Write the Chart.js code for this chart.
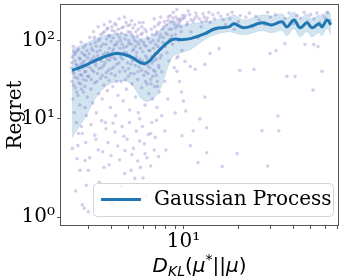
<!DOCTYPE html>
<html>
<head>
<meta charset="utf-8">
<script src="https://cdn.jsdelivr.net/npm/chart.js@4/dist/chart.umd.min.js"></script>
<style>
html, body { margin: 0; padding: 0; background: #fff; }
#wrap { width: 344px; height: 276px; }
</style>
</head>
<body>
<div id="wrap"><canvas id="regretChart"></canvas></div>
<script>
// GP 均值曲线与置信带
const meanX = [2.44, 2.88, 3.48, 4.31, 5.08, 6.14, 7.24, 8.65, 9.81, 10.9, 13.1, 14.9, 17.8, 18.9, 21.5, 27.0, 30.6, 34.7, 37.0, 40.5, 43.6, 47.7, 50.8, 55.5, 57.7, 61.4, 64.6];
const meanY = [41.7, 48.3, 59.2, 68.4, 62.7, 51.2, 72.6, 103, 103, 106, 123, 142, 150, 164, 146, 169, 159, 174, 150, 184, 146, 169, 146, 164, 150, 184, 159];
const bandUpper = [79.2, 91.6, 112, 123, 119, 106, 130, 174, 159, 164, 174, 184, 201, 213, 184, 213, 207, 220, 196, 233, 190, 220, 190, 213, 196, 240, 213];
const bandLower = [5.75, 10.5, 22.0, 30.3, 28.6, 16.9, 21.3, 60.9, 70.5, 76.9, 103, 119, 130, 126, 119, 134, 126, 134, 116, 142, 112, 130, 112, 126, 116, 142, 119];

// 散点 [D_KL, regret]
const scatterPoints = [
    [2.42,45],[2.44,30],[2.45,62],[2.47,18],[2.48,85],[2.5,38],[2.51,12],[2.53,55],[2.55,25],[2.56,70],
    [2.58,9],[2.6,48],[2.62,33],[2.63,20],[2.65,78],[2.67,42],[2.69,15],[2.7,58],[2.72,28],[2.74,95],
    [2.76,36],[2.78,6.5],[2.8,52],[2.82,22],[2.84,66],[2.86,40],[2.88,14],[2.9,88],[2.92,31],[2.94,47],
    [2.96,19],[2.98,60],[2.45,4.2],[2.6,3.1],[2.7,2.2],[2.55,1.6],[2.85,1.2],[2.75,8],[2.5,72],[2.93,11],
    [3.02,35],[3.05,110],[3.07,55],[3.1,24],[3.12,80],[3.15,42],[3.17,16],[3.2,130],[3.22,62],[3.25,29],
    [3.27,95],[3.3,48],[3.32,12],[3.35,72],[3.37,38],[3.4,150],[3.42,21],[3.45,58],[3.47,105],[3.5,33],
    [3.52,84],[3.55,45],[3.57,18],[3.6,125],[3.62,66],[3.65,27],[3.67,160],[3.7,52],[3.72,9],[3.75,90],
    [3.77,39],[3.8,140],[3.82,23],[3.85,70],[3.87,115],[3.9,31],[3.92,56],[3.95,175],[3.97,14],[4.0,98],
    [4.03,44],[4.06,135],[4.09,26],[4.12,78],[4.15,60],[4.18,165],[4.21,36],[4.24,11],[4.27,88],[4.3,50],
    [4.33,120],[4.36,20],[4.4,68],[4.43,190],[4.46,40],[3.3,5.5],[3.6,3.8],[3.9,2.6],[4.2,6.8],[3.45,1.8],
    [4.05,1.3],[3.75,7.5],[4.35,4.5],
    [4.5,100],[4.54,30],[4.58,145],[4.62,58],[4.66,17],[4.7,82],[4.74,200],[4.78,41],[4.82,118],[4.86,24],
    [4.9,66],[4.94,155],[4.98,35],[5.02,92],[5.06,13],[5.1,128],[5.14,50],[5.18,180],[5.22,28],[5.26,75],
    [5.3,110],[5.35,38],[5.4,160],[5.45,19],[5.5,62],[5.55,96],[5.6,32],[5.65,140],[5.7,46],[5.75,10],
    [5.8,80],[5.85,120],[5.9,25],[5.95,55],[6.0,170],[6.05,36],[6.1,88],[6.15,15],[6.2,64],[6.25,130],
    [6.3,28],[6.35,48],[6.4,105],[6.45,21],[4.6,8],[4.9,5.5],[5.2,3.5],[5.5,7],[5.8,2.4],[6.1,4.8],
    [6.4,6.3],[4.75,2.0],[5.35,1.4],[6.0,1.9],[5.65,12],[4.85,70],[5.45,85],[6.2,40],[5.0,44],[5.9,150],
    [6.55,75],[6.6,32],[6.65,140],[6.7,52],[6.75,18],[6.8,100],[6.85,42],[6.9,190],[6.95,26],[7.0,68],
    [7.05,120],[7.1,36],[7.15,14],[7.2,85],[7.25,160],[7.3,48],[7.35,22],[7.4,110],[7.45,60],[7.5,200],
    [7.6,40],[7.7,95],[7.8,150],[7.9,30],[8.0,125],[8.1,70],[8.2,180],[8.3,55],[8.4,105],[8.45,210],
    [6.7,9],[7.0,5.8],[7.3,3.3],[7.6,11],[7.9,7],[8.2,18],[6.6,2.5],[7.4,1.6],[8.0,4],[7.2,26],
    [3.1,8.5],[3.25,6.2],[3.55,9.5],[3.85,5],[4.1,8.8],[4.45,3],[4.7,6],[5.05,9],[5.3,4.2],[5.6,2.9],
    [5.95,8],[6.3,3.2],[6.6,6.5],[6.9,4],[7.1,9.6],[3.4,4],[3.65,2.4],[4.0,3.4],[4.55,1.7],[5.15,2.2],
    [5.75,5.2],[6.25,1.5],[2.65,6.5],[2.9,5],[3.05,3.2],[2.63,4.55],[2.88,2.94],[3.0,2.2],[2.92,1.73],
    [2.78,1.28],[3.0,1.12],[4.77,3.94],[6.15,3.6],[5.4,1.89],
    [8.6,140],[8.7,90],[8.8,175],[8.9,45],[9.0,120],[9.1,200],[9.2,60],[9.3,155],[9.4,100],[9.5,30],
    [9.6,180],[9.7,130],[9.8,75],[9.9,210],[9.75,22],[9.5,190],[10.2,210],[11,185],[11.8,205],[12.6,175],
    [13.5,195],[14.5,215],[8.8,230],[9.2,250],[10.6,240],
    [10.5,170],[11,130],[11.5,190],[12,110],[12.5,150],[13,200],[13.5,125],[14,170],[15,140],[16,205],
    [17,160],[18,190],[19,140],[20,175],[22,200],[24,150],[26,185],[28,160],[30,200],[33,170],
    [36,190],[40,165],[44,195],[48,175],[52,190],[56,170],[60,195],[64,180],
    [9.33,62.7],[9.2,40.5],[10.2,54.3],[10.9,46.8],[11.6,43],[13.1,49.7],[14.0,68.4],[15.7,79],[10,16.9],[10.3,12.6],
    [9.0,11.9],[13.1,19],[20.4,41.7],[29.9,68.4],[32.2,74.8],[36.1,91.6],[41,35],[46.5,89],[54.8,84],[51.5,23.3],
    [57.7,40.5],[33,10.9],[11.3,7.05],[12.3,10],[9.8,6.1],[27,7.05],[10.9,4.55],[13.4,3.7],[19.7,3.6],[16.3,2.47],
    [29,2.5],[12.0,2.77],[13.4,7.7],[33.4,7.05],[37,35],[52,89],[24.4,43],
    // 密集核心区
    [2.43,52],[2.46,40],[2.49,27],[2.52,66],[2.54,34],[2.57,50],[2.59,22],[2.61,75],[2.64,44],[2.66,29],
    [2.68,60],[2.71,37],[2.73,50],[2.75,24],[2.77,70],[2.79,45],[2.81,32],[2.83,82],[2.85,55],[2.87,26],
    [2.89,64],[2.91,40],[2.95,75],[2.97,35],[2.99,50],
    [3.03,68],[3.06,45],[3.09,90],[3.11,32],[3.14,58],[3.18,75],[3.21,40],[3.24,110],[3.28,52],[3.31,85],
    [3.34,30],[3.38,64],[3.41,100],[3.44,44],[3.48,75],[3.51,120],[3.54,55],[3.58,36],[3.61,90],[3.64,48],
    [3.68,130],[3.71,70],[3.74,34],[3.78,105],[3.81,58],[3.84,145],[3.88,42],[3.91,80],[3.94,115],[3.98,62],
    [4.01,38],[4.04,150],[4.08,72],[4.11,108],[4.14,46],[4.17,88],[4.2,130],[4.23,58],[4.26,160],[4.29,30],
    [4.32,95],[4.35,70],[4.38,140],[4.42,52],[4.45,110],[4.48,80],
    [4.52,62],[4.56,125],[4.6,90],[4.64,45],[4.68,150],[4.72,70],[4.76,105],[4.8,32],[4.84,170],[4.88,85],
    [4.92,52],[4.96,130],[5.0,100],[5.04,65],[5.08,160],[5.12,38],[5.16,90],[5.2,120],[5.24,55],[5.28,145],
    [5.33,78],[5.38,100],[5.43,48],[5.48,130],[5.53,70],[5.58,115],[5.63,40],[5.68,90],[5.73,170],[5.78,58],
    [5.83,100],[5.88,42],[5.93,125],[5.98,72],[6.03,95],[6.08,50],[6.13,140],[6.18,30],[6.23,85],[6.28,60],
    [6.33,110],[6.38,38],[6.43,75],[6.48,55],
    [6.53,45],[6.58,95],[6.63,28],[6.68,62],[6.73,120],[6.78,35],[6.83,80],[6.88,55],[6.93,150],[6.98,40],
    [7.03,90],[7.08,58],[7.13,130],[7.18,30],[7.23,70],[7.28,100],[7.33,45],[7.38,170],[7.43,80],[7.48,120],
    [7.55,65],[7.65,140],[7.75,110],[7.85,175],[7.95,85],[8.05,160],[8.15,120],[8.25,200],[8.35,140],[8.5,175],
    [8.6,115],[8.75,195],[8.95,160],[9.05,145],[9.25,185],[9.45,170],[9.65,150],[9.85,190],
    [10.1,195],[10.4,160],[10.8,215],[11.3,175],[11.7,225],[12.2,190],[12.8,220],[13.3,180],[13.8,230],[14.8,190],
    [15.5,225],[16.5,185],[17.5,215],[18.5,230],[20.5,210],[23,225],[25,205],[29,230],[32,215],[38,225],
    [42,210],[46,230],[50,215],[54,225],[58,210],[62,228]
];

// 刻度
const xTickValues = [3, 4, 5, 6, 7, 8, 9, 10, 20, 30, 40, 50, 60, 70];
const yTickValues = [1, 10, 100];
const yTickLabels = ['10⁰', '10¹', '10²'];

const lineColor = '#1f77b4';
const axisColor = '#555';
const serif = 'DejaVu Serif';

// symlog 变换 (linthresh = 2)
const LIN_THRESH = 2;
const LIN_SCALE = 1 / (1 - 1 / 10);
function symT(v) {
    return v <= LIN_THRESH ? v * LIN_SCALE : LIN_THRESH * (LIN_SCALE + Math.log10(v / LIN_THRESH));
}
function symInv(t) {
    return t <= LIN_THRESH * LIN_SCALE ? t / LIN_SCALE : LIN_THRESH * Math.pow(10, t / LIN_THRESH - LIN_SCALE);
}

class SymlogScale extends Chart.Scale {
    determineDataLimits() {
        this.min = this.options.min;
        this.max = this.options.max;
    }
    buildTicks() {
        return yTickValues.map(v => ({ value: v }));
    }
    getLabelForValue(v) {
        return String(v);
    }
    configure() {
        super.configure();
        this._t0 = symT(this.min);
        this._t1 = symT(this.max);
    }
    getPixelForValue(v) {
        return this.getPixelForDecimal((symT(v) - this._t0) / (this._t1 - this._t0));
    }
    getValueForPixel(p) {
        return symInv(this._t0 + this.getDecimalForPixel(p) * (this._t1 - this._t0));
    }
}
SymlogScale.id = 'symlog';
SymlogScale.defaults = {};
Chart.register(SymlogScale);

// 外框
const framePlugin = {
    id: 'frame',
    afterDatasetsDraw(chart) {
        const { ctx, chartArea: a } = chart;
        ctx.save();
        ctx.strokeStyle = axisColor;
        ctx.lineWidth = 1;
        ctx.strokeRect(a.left + 0.5, a.top + 0.5, a.right - a.left - 1, a.bottom - a.top - 1);
        ctx.restore();
    }
};

// 图例
const legendPlugin = {
    id: 'gpLegend',
    afterDraw(chart) {
        const ctx = chart.ctx;
        ctx.save();
        ctx.beginPath();
        ctx.roundRect(93.5, 183.5, 240, 33, 4);
        ctx.fillStyle = 'rgba(255,255,255,0.8)';
        ctx.fill();
        ctx.strokeStyle = '#d5d5d5';
        ctx.lineWidth = 1;
        ctx.stroke();
        ctx.beginPath();
        ctx.moveTo(101, 199.5);
        ctx.lineTo(141, 199.5);
        ctx.strokeStyle = lineColor;
        ctx.lineWidth = 3;
        ctx.stroke();
        ctx.fillStyle = '#000';
        ctx.font = '20px "' + serif + '"';
        ctx.textBaseline = 'middle';
        ctx.fillText('Gaussian Process', 154, 200);
        ctx.restore();
    }
};

// x 轴标题 D_KL(μ*||μ)
const xTitlePlugin = {
    id: 'xTitle',
    afterDraw(chart) {
        const ctx = chart.ctx;
        const a = chart.chartArea;
        const big = '20px "DejaVu Sans"';
        const bigIt = 'italic 20px "DejaVu Sans"';
        const smallIt = 'italic 14px "DejaVu Sans"';
        const small = '14px "DejaVu Sans"';
        const parts = [
            { t: 'D', f: bigIt, dy: 0 },
            { t: 'KL', f: smallIt, dy: 4 },
            { t: '(', f: big, dy: 0 },
            { t: 'μ', f: bigIt, dy: 0 },
            { t: '*', f: small, dy: -8 },
            { t: '||', f: big, dy: 0 },
            { t: 'μ', f: bigIt, dy: 0 },
            { t: ')', f: big, dy: 0 }
        ];
        ctx.save();
        let total = 0;
        parts.forEach(p => { ctx.font = p.f; p.w = ctx.measureText(p.t).width; total += p.w; });
        let x = (a.left + a.right) / 2 - total / 2;
        const base = 272;
        ctx.fillStyle = '#000';
        ctx.textBaseline = 'alphabetic';
        parts.forEach(p => {
            ctx.font = p.f;
            ctx.fillText(p.t, x, base + p.dy);
            x += p.w;
        });
        ctx.restore();
    }
};

function initRegretChart() {
    const ctx = document.getElementById('regretChart').getContext('2d');
    const toXY = (xs, ys) => xs.map((x, i) => ({ x: x, y: ys[i] }));

    new Chart(ctx, {
        data: {
            datasets: [
                {
                    type: 'line',
                    label: 'Gaussian Process',
                    data: toXY(meanX, meanY),
                    borderColor: lineColor,
                    borderWidth: 3,
                    pointRadius: 0,
                    tension: 0.4,
                    fill: false,
                    order: 0
                },
                {
                    type: 'line',
                    label: 'upper',
                    data: toXY(meanX, bandUpper),
                    borderColor: 'rgba(31,119,180,0.12)',
                    borderWidth: 1,
                    backgroundColor: 'rgba(31,119,180,0.2)',
                    pointRadius: 0,
                    tension: 0.4,
                    fill: '+1',
                    order: 1
                },
                {
                    type: 'line',
                    label: 'lower',
                    data: toXY(meanX, bandLower),
                    borderColor: 'rgba(31,119,180,0.12)',
                    borderWidth: 1,
                    pointRadius: 0,
                    tension: 0.4,
                    fill: false,
                    order: 1
                },
                {
                    type: 'scatter',
                    label: 'samples',
                    data: scatterPoints.map(p => ({ x: p[0], y: p[1] })),
                    backgroundColor: 'rgba(140,120,200,0.36)',
                    borderWidth: 0,
                    pointRadius: 1.8,
                    order: 2
                }
            ]
        },
        options: {
            responsive: true,
            maintainAspectRatio: false,
            animation: false,
            layout: { padding: { top: 2, right: 5, bottom: 0, left: 0 } },
            plugins: {
                legend: { display: false },
                tooltip: { enabled: false }
            },
            scales: {
                x: {
                    type: 'logarithmic',
                    min: 2.096,
                    max: 71.5,
                    afterBuildTicks: s => { s.ticks = xTickValues.map(v => ({ value: v })); },
                    afterFit: s => { s.height = 50; s.paddingLeft = 0; s.paddingRight = 0; },
                    border: { display: false },
                    grid: { drawOnChartArea: false, tickLength: 3, color: axisColor },
                    ticks: {
                        autoSkip: false,
                        maxRotation: 0,
                        minRotation: 0,
                        padding: 1,
                        color: '#000',
                        font: { family: serif, size: 20 },
                        callback: v => (v === 10 ? '10¹' : '')
                    }
                },
                y: {
                    type: 'symlog',
                    position: 'left',
                    min: 0.795,
                    max: 294,
                    afterFit: s => { s.width = 60; s.paddingTop = 0; s.paddingBottom = 0; },
                    border: { display: false },
                    grid: { drawOnChartArea: false, tickLength: 3, color: axisColor },
                    ticks: {
                        padding: 2,
                        color: '#000',
                        font: { family: serif, size: 20 },
                        callback: (v, i) => yTickLabels[i]
                    },
                    title: {
                        display: true,
                        text: 'Regret',
                        color: '#000',
                        font: { family: serif, size: 20 },
                        padding: { top: 4, bottom: 0 }
                    }
                }
            }
        },
        plugins: [framePlugin, legendPlugin, xTitlePlugin]
    });
}

document.addEventListener('DOMContentLoaded', () => {
    initRegretChart();
});
</script>
</body>
</html>
